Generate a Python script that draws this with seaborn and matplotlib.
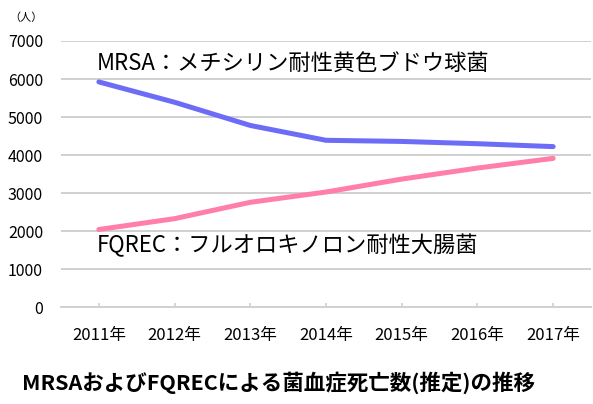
import matplotlib
matplotlib.use("Agg")
import matplotlib.pyplot as plt
import seaborn as sns
import pandas as pd

years = ["2011年", "2012年", "2013年", "2014年", "2015年", "2016年", "2017年"]
mrsa = [5924, 5390, 4780, 4390, 4360, 4300, 4224]
fqrec = [2045, 2330, 2760, 3030, 3370, 3660, 3915]
yticks = [0, 1000, 2000, 3000, 4000, 5000, 6000, 7000]
label_mrsa = "MRSA：メチシリン耐性黄色ブドウ球菌"
label_fqrec = "FQREC：フルオロキノロン耐性大腸菌"
title = "MRSAおよびFQRECによる菌血症死亡数(推定)の推移"
unit = "（人）"

sns.set_theme(style="white")
plt.rcParams['font.family'] = ['Noto Sans CJK JP', 'DejaVu Sans']

df = pd.DataFrame({
    "idx": list(range(len(years))) * 2,
    "year": years * 2,
    "value": mrsa + fqrec,
    "series": ["MRSA"] * len(years) + ["FQREC"] * len(years),
})

fig = plt.figure(figsize=(5.93, 4.04), dpi=100)
ax = fig.add_axes([61 / 593, 1 - 307.3 / 404, 530 / 593, (307.3 - 41) / 404])

sns.lineplot(data=df, x="idx", y="value", hue="series",
             palette={"MRSA": "#6c6cf6", "FQREC": "#ff7fa9"},
             linewidth=3.6, legend=False, ax=ax, solid_capstyle="round", zorder=3)

ax.set_xlim(-0.5, 6.5)
ax.set_ylim(0, 7000)
ax.set_yticks(yticks)
ax.set_yticklabels([str(v) for v in yticks])
ax.set_xticks(range(len(years)))
ax.set_xticklabels(years)
ax.set_xlabel("")
ax.set_ylabel("")

ax.yaxis.grid(True, color="#d0d0d0", linewidth=1.4)
ax.xaxis.grid(False)
for s in ["top", "right", "left"]:
    ax.spines[s].set_visible(False)
ax.spines["bottom"].set_color("#d0d0d0")
ax.spines["bottom"].set_linewidth(1.4)
ax.tick_params(axis="y", length=0, pad=13, labelsize=11.5, labelcolor="#000000")
ax.tick_params(axis="x", direction="in", length=3, width=1.2, color="#d0d0d0",
               pad=14, labelsize=12, labelcolor="#000000", bottom=True)

ax.text(-0.03, 6400, label_mrsa, fontsize=16, va="center", ha="left", color="#000000")
ax.text(-0.03, 1613, label_fqrec, fontsize=16, va="center", ha="left", color="#000000")

fig.text(43 / 593, 1 - 18 / 404, unit, fontsize=8, ha="right", va="center", color="#000000")
fig.text(22 / 593, 1 - 383 / 404, title, fontsize=15.5, fontweight="bold",
         ha="left", va="center", color="#000000")

fig.savefig("out.png", dpi=100)
